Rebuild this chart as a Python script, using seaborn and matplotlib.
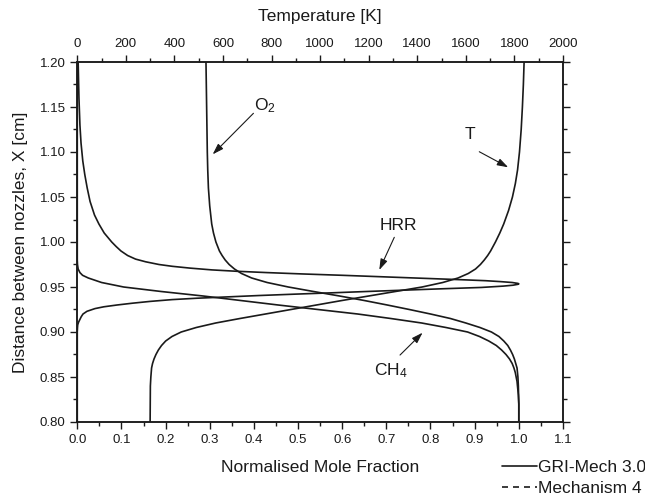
import numpy as np
import pandas as pd
import matplotlib
matplotlib.use("Agg")
import matplotlib.pyplot as plt
import seaborn as sns
from matplotlib.lines import Line2D
from matplotlib.ticker import MultipleLocator

# ---------------- data ----------------
# Temperature profile [K] vs distance between nozzles [cm]
t_dist = [0.80, 0.84, 0.85, 0.86, 0.865, 0.87, 0.875, 0.88, 0.885, 0.89, 0.895, 0.90,
          0.905, 0.91, 0.915, 0.92, 0.925, 0.93, 0.935, 0.94, 0.945, 0.95, 0.955,
          0.96, 0.965, 0.97, 0.975, 0.98, 0.985, 0.99, 0.995, 1.00, 1.01, 1.02, 1.035,
          1.05, 1.065, 1.08, 1.10, 1.125, 1.15, 1.175, 1.20]
t_kelvin = [300, 301, 303, 306, 310, 316, 324, 334, 347, 364, 390, 428,
            490, 570, 670, 775, 880, 985, 1090, 1200, 1310, 1420, 1505,
            1568, 1610, 1640, 1660, 1676, 1690, 1702, 1712, 1722, 1740, 1756, 1776,
            1792, 1804, 1813, 1821, 1828, 1833, 1837, 1840]

# Normalised O2 mole fraction
o2_dist = [0.80, 0.82, 0.84, 0.85, 0.86, 0.865, 0.87, 0.875, 0.88, 0.885, 0.89,
           0.895, 0.90, 0.905, 0.91, 0.915, 0.92, 0.925, 0.93, 0.935, 0.94, 0.945,
           0.95, 0.955, 0.96, 0.965, 0.97, 0.975, 0.98, 0.985, 0.99, 1.00, 1.01,
           1.02, 1.04, 1.06, 1.08, 1.10, 1.15, 1.20]
o2_frac = [1.0, 1.0, 0.999, 0.998, 0.996, 0.993, 0.99, 0.986, 0.981, 0.975, 0.966,
           0.955, 0.938, 0.912, 0.88, 0.845, 0.80, 0.752, 0.702, 0.65, 0.594, 0.535,
           0.478, 0.43, 0.395, 0.372, 0.356, 0.344, 0.335, 0.328, 0.322, 0.314, 0.3085,
           0.3045, 0.300, 0.297, 0.2955, 0.2945, 0.293, 0.2915]

# Normalised CH4 mole fraction
ch4_dist = [0.80, 0.82, 0.83, 0.84, 0.845, 0.85, 0.855, 0.86, 0.865, 0.87, 0.875,
            0.88, 0.885, 0.89, 0.895, 0.90, 0.905, 0.91, 0.915, 0.92, 0.925, 0.93,
            0.935, 0.94, 0.945, 0.95, 0.955, 0.96, 0.963, 0.966, 0.97, 0.975, 0.98, 1.20]
ch4_frac = [1.0, 1.0, 0.999, 0.997, 0.996, 0.994, 0.992, 0.989, 0.985, 0.979, 0.971,
            0.961, 0.949, 0.932, 0.911, 0.884, 0.835, 0.78, 0.71, 0.635, 0.545, 0.455,
            0.37, 0.285, 0.19, 0.105, 0.055, 0.025, 0.012, 0.006, 0.002, 0.0005, 0.0, 0.0]

# Normalised heat release rate
hrr_dist = [0.80, 0.90, 0.905, 0.908, 0.911, 0.914, 0.917, 0.92, 0.923, 0.926, 0.928,
            0.93, 0.932, 0.934, 0.936, 0.9375, 0.939, 0.9405, 0.942, 0.9435, 0.945,
            0.9465, 0.948, 0.9495, 0.951, 0.952, 0.953, 0.9535, 0.954, 0.955, 0.956,
            0.957, 0.958, 0.959, 0.960, 0.961, 0.962, 0.963, 0.9635, 0.9645, 0.966,
            0.9675, 0.969, 0.971, 0.973, 0.975, 0.978, 0.981, 0.985, 0.99, 0.995,
            1.00, 1.01, 1.02, 1.03, 1.045, 1.06, 1.075, 1.09, 1.11, 1.13, 1.16, 1.20]
hrr_norm = [0.0, 0.0, 0.0005, 0.001, 0.003, 0.006, 0.009, 0.013, 0.022, 0.04, 0.06,
            0.09, 0.125, 0.165, 0.215, 0.27, 0.34, 0.41, 0.49, 0.575, 0.655,
            0.74, 0.825, 0.915, 0.965, 0.987, 0.998, 1.0, 0.998, 0.985, 0.958,
            0.925, 0.875, 0.82, 0.765, 0.71, 0.655, 0.60, 0.57, 0.51, 0.43,
            0.36, 0.305, 0.255, 0.215, 0.185, 0.155, 0.132, 0.114, 0.099, 0.088,
            0.078, 0.061, 0.049, 0.039, 0.029, 0.0225, 0.017, 0.0125, 0.0085, 0.006,
            0.0038, 0.002]

legend_labels = ["GRI-Mech 3.0", "Mechanism 4"]
bottom_ticks = [0.0, 0.1, 0.2, 0.3, 0.4, 0.5, 0.6, 0.7, 0.8, 0.9, 1.0, 1.1]
top_ticks = [0, 200, 400, 600, 800, 1000, 1200, 1400, 1600, 1800, 2000]
y_ticks = [0.80, 0.85, 0.90, 0.95, 1.00, 1.05, 1.10, 1.15, 1.20]

# ---------------- style ----------------
sns.set_theme(style="ticks")
plt.rcParams["font.family"] = ["Liberation Sans", "DejaVu Sans"]
plt.rcParams["mathtext.fontset"] = "custom"
plt.rcParams["mathtext.rm"] = "Liberation Sans"
plt.rcParams["mathtext.it"] = "Liberation Sans:italic"
plt.rcParams["axes.linewidth"] = 1.1
plt.rcParams["axes.edgecolor"] = "#1a1a1a"

INK = "#1a1a1a"
LW = 1.2
TICK_FS = 9.5
LAB_FS = 12.5

fig = plt.figure(figsize=(6.45, 5.0), dpi=100)
ax = fig.add_axes([0.1198, 0.156, 0.753, 0.72])
ax2 = ax.twiny()

df_o2 = pd.DataFrame({"dist": o2_dist, "val": o2_frac})
df_ch4 = pd.DataFrame({"dist": ch4_dist, "val": ch4_frac})
df_hrr = pd.DataFrame({"dist": hrr_dist, "val": hrr_norm})
df_t = pd.DataFrame({"dist": t_dist, "T": t_kelvin})

for df in (df_o2, df_ch4, df_hrr):
    sns.lineplot(data=df, x="val", y="dist", ax=ax, orient="y", sort=True,
                 estimator=None, color=INK, lw=LW)
sns.lineplot(data=df_t, x="T", y="dist", ax=ax2, orient="y", sort=True,
             estimator=None, color=INK, lw=LW)

ax.set_xlim(0, 1.1)
ax.set_ylim(0.80, 1.20)
ax2.set_xlim(0, 2000)

ax.set_xticks(bottom_ticks)
ax.set_xticklabels([f"{v:.1f}" for v in bottom_ticks])
ax.set_yticks(y_ticks)
ax.set_yticklabels([f"{v:.2f}" for v in y_ticks])
ax2.set_xticks(top_ticks)
ax2.set_xticklabels([str(v) for v in top_ticks])
ax.xaxis.set_minor_locator(MultipleLocator(0.05))
ax.yaxis.set_minor_locator(MultipleLocator(0.025))
ax2.xaxis.set_minor_locator(MultipleLocator(100))

for a in (ax, ax2):
    a.tick_params(which="major", direction="out", length=5, width=1.0, color=INK,
                  labelsize=TICK_FS, pad=3.5, labelcolor=INK)
    a.tick_params(which="minor", direction="out", length=3, width=1.0, color=INK)
ax.tick_params(axis="y", which="both", left=True, right=True, labelright=False)
ax2.tick_params(axis="x", which="both", top=True, bottom=False)
for s in ax.spines.values():
    s.set_visible(True)
    s.set_linewidth(1.1)

ax.set_xlabel("Normalised Mole Fraction", fontsize=LAB_FS, color=INK, labelpad=10)
ax.set_ylabel("Distance between nozzles, X [cm]", fontsize=LAB_FS, color=INK, labelpad=8)
ax2.set_xlabel("Temperature [K]", fontsize=LAB_FS, color=INK, labelpad=12.5)
ax2.set_ylabel("")

# annotations (arrows with labels)
arrow = dict(arrowstyle="-|>,head_length=0.55,head_width=0.18", lw=0.8, color=INK,
             mutation_scale=12, shrinkA=0, shrinkB=0)
ax.annotate("", xy=(0.3067, 1.0974), xytext=(0.399, 1.143), arrowprops=arrow)
ax.text(0.425, 1.151, r"O$_{2}$", fontsize=LAB_FS, color=INK, ha="center", va="center")
ax.annotate("", xy=(0.684, 0.9689), xytext=(0.718, 1.0052), arrowprops=arrow)
ax.text(0.727, 1.018, "HRR", fontsize=LAB_FS, color=INK, ha="center", va="center")
ax.annotate("", xy=(0.976, 1.083), xytext=(0.9105, 1.1003), arrowprops=arrow)
ax.text(0.889, 1.119, "T", fontsize=LAB_FS, color=INK, ha="center", va="center")
ax.annotate("", xy=(0.782, 0.8992), xytext=(0.731, 0.8744), arrowprops=arrow)
ax.text(0.71, 0.857, r"CH$_{4}$", fontsize=LAB_FS, color=INK, ha="center", va="center")

handles = [Line2D([], [], color=INK, lw=LW, ls="-"),
           Line2D([], [], color=INK, lw=LW, ls=(0, (3.6, 3.0)))]
fig.legend(handles, legend_labels, loc="upper left", bbox_to_anchor=(0.778, 0.081),
           frameon=False, fontsize=LAB_FS, handlelength=2.0, handletextpad=0.1,
           labelspacing=0.37, borderpad=0, borderaxespad=0, labelcolor=INK)

fig.savefig("out.png", dpi=100, facecolor="white")
